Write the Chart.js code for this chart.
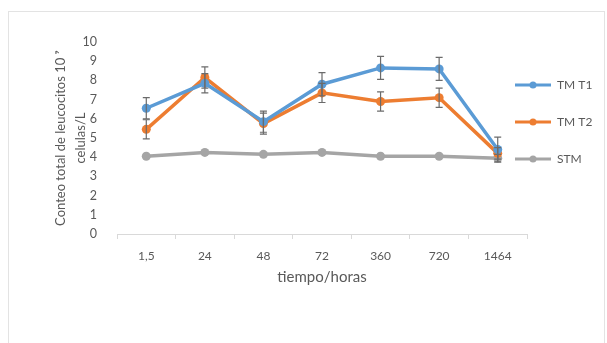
<!DOCTYPE html>
<html>
<head>
<meta charset="utf-8">
<script src="https://cdn.jsdelivr.net/npm/chart.js@4/dist/chart.umd.min.js"></script>
<style>
  html, body { margin: 0; padding: 0; background: #fff; }
  #wrap { width: 607px; height: 343px; }
</style>
</head>
<body>
<div id="wrap"><canvas id="chart" width="607" height="343"></canvas></div>
<script>
var categories = ['1,5', '24', '48', '72', '360', '720', '1464'];

var tmt1 = [6.55, 7.85, 5.85, 7.8, 8.65, 8.6, 4.4];
var tmt2 = [5.45, 8.15, 5.75, 7.35, 6.9, 7.1, 4.2];
var stm = [4.05, 4.25, 4.15, 4.25, 4.05, 4.05, 3.95];

// +/- error for each point
var errT1 = [0.55, 0.5, 0.55, 0.6, 0.6, 0.6, 0.65];
var errT2 = [0.5, 0.55, 0.55, 0.5, 0.5, 0.5, 0.3];
var errStm = [0, 0, 0, 0, 0, 0, 0.2];

var textColor = '#595959';
var fontFamily = 'Lato, "Open Sans", sans-serif';

function legendIcon(color) {
    var c = document.createElement('canvas');
    c.width = 36;
    c.height = 10;
    var g = c.getContext('2d');
    g.strokeStyle = color;
    g.lineWidth = 3;
    g.beginPath();
    g.moveTo(0, 5);
    g.lineTo(36, 5);
    g.stroke();
    g.fillStyle = color;
    g.beginPath();
    g.arc(18, 5, 3.5, 0, Math.PI * 2);
    g.fill();
    return c;
}

var errorBars = {
    id: 'errorBars',
    afterDatasetsDraw: function (chart) {
        var ctx = chart.ctx;
        var y = chart.scales.y;
        ctx.save();
        ctx.strokeStyle = '#6b6b6b';
        ctx.lineWidth = 1.2;
        chart.data.datasets.forEach(function (ds, i) {
            var meta = chart.getDatasetMeta(i);
            ds.errors.forEach(function (e, j) {
                if (!e) return;
                var x = meta.data[j].x;
                var top = y.getPixelForValue(ds.data[j] + e);
                var bot = y.getPixelForValue(ds.data[j] - e);
                ctx.beginPath();
                ctx.moveTo(x, top); ctx.lineTo(x, bot);
                ctx.moveTo(x - 3.5, top); ctx.lineTo(x + 3.5, top);
                ctx.moveTo(x - 3.5, bot); ctx.lineTo(x + 3.5, bot);
                ctx.stroke();
            });
        });
        ctx.restore();
    }
};

var frameAndLegend = {
    id: 'frameAndLegend',
    beforeDraw: function (chart) {
        var ctx = chart.ctx;
        ctx.save();
        ctx.strokeStyle = '#e3e3e3';
        ctx.lineWidth = 1;
        ctx.strokeRect(8.5, 11.5, 596, 340);
        ctx.restore();
    },
    afterLayout: function (chart) {
        var lg = chart.legend;
        lg.left = 490;
        lg.top = 54;
        lg.right = 607;
        lg.bottom = 343;
    }
};

function makeSet(label, data, errors, color) {
    return {
        label: label,
        data: data,
        errors: errors,
        borderColor: color,
        backgroundColor: color,
        borderWidth: 3.5,
        pointRadius: 4.5,
        pointHoverRadius: 4.5,
        pointBackgroundColor: color,
        pointBorderWidth: 0,
        tension: 0,
        legendIcon: legendIcon(color)
    };
}

new Chart(document.getElementById('chart'), {
    type: 'line',
    data: {
        labels: categories,
        datasets: [
            makeSet('TM T1', tmt1, errT1, '#5b9bd5'),
            makeSet('TM T2', tmt2, errT2, '#ed7d31'),
            makeSet('STM', stm, errStm, '#a5a5a5')
        ]
    },
    options: {
        responsive: false,
        animation: false,
        layout: {
            padding: { left: 45, right: 80, top: 42, bottom: 57 }
        },
        plugins: {
            tooltip: { enabled: false },
            legend: {
                position: 'chartArea',
                align: 'start',
                labels: {
                    usePointStyle: true,
                    pointStyleWidth: 36,
                    padding: 25,
                    color: textColor,
                    font: { family: fontFamily, size: 12 },
                    generateLabels: function (chart) {
                        var items = Chart.defaults.plugins.legend.labels.generateLabels(chart);
                        items.forEach(function (it) {
                            it.pointStyle = chart.data.datasets[it.datasetIndex].legendIcon;
                        });
                        return items;
                    }
                }
            }
        },
        scales: {
            x: {
                offset: true,
                afterFit: function (scale) { scale.height = 52; },
                grid: {
                    display: true,
                    offset: true,
                    drawOnChartArea: false,
                    drawTicks: true,
                    tickLength: 5,
                    color: '#d9d9d9'
                },
                border: { display: true, color: '#d9d9d9' },
                ticks: {
                    color: textColor,
                    padding: 10,
                    font: { family: fontFamily, size: 12 }
                },
                title: {
                    display: true,
                    text: 'tiempo/horas',
                    color: textColor,
                    padding: { top: 4, bottom: 0 },
                    font: { family: fontFamily, size: 15, lineHeight: 18 / 15 }
                }
            },
            y: {
                min: 0,
                max: 10,
                afterFit: function (scale) { scale.width = 72; },
                grid: { display: false },
                border: { display: false },
                ticks: {
                    stepSize: 1,
                    color: textColor,
                    padding: 12,
                    font: { family: fontFamily, size: 12.5 }
                },
                title: {
                    display: true,
                    text: ['Conteo total de leucocitos 10 \u2079', 'celulas/L'],
                    color: textColor,
                    padding: { top: 6, bottom: 0 },
                    font: { family: fontFamily, size: 13, lineHeight: 20 / 13 }
                }
            }
        }
    },
    plugins: [errorBars, frameAndLegend]
});
</script>
</body>
</html>
